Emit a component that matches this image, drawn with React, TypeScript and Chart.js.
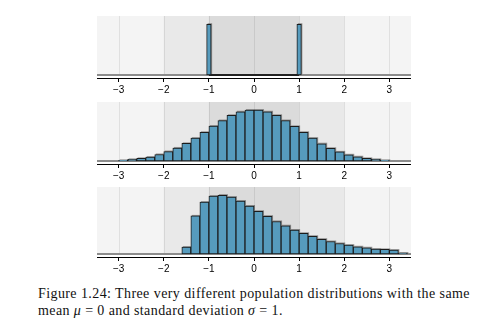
import React, { useEffect, useRef } from "react";
import { Chart, registerables } from "chart.js";

Chart.register(...registerables);

// ---- data ----
const X_MIN = -3.48;
const X_MAX = 3.48;
const TICK_VALUES = [-3, -2, -1, 0, 1, 2, 3];

// Panel 1: two spikes at -1 and +1 (bins of width 0.1)
const UNIFORM_CENTERS = [-1.0, -0.9, -0.8, -0.7, -0.6, -0.5, -0.4, -0.3, -0.2, -0.1, 0.0, 0.1, 0.2, 0.3, 0.4, 0.5, 0.6, 0.7, 0.8, 0.9, 1.0];
const UNIFORM_VALUES = [154, 0, 0, 0, 0, 0, 0, 0, 0, 0, 0, 0, 0, 0, 0, 0, 0, 0, 0, 0, 154];
const UNIFORM_JOIN = [-1, 1];

// Panel 2: symmetric bell shape (bins of width 0.2)
const NORMAL_CENTERS = [-2.9, -2.7, -2.5, -2.3, -2.1, -1.9, -1.7, -1.5, -1.3, -1.1, -0.9, -0.7, -0.5, -0.3, -0.1, 0.1, 0.3, 0.5, 0.7, 0.9, 1.1, 1.3, 1.5, 1.7, 1.9, 2.1, 2.3, 2.5, 2.7, 2.9];
const NORMAL_VALUES = [2, 5, 8, 12, 20, 29, 40, 54, 70, 88, 107, 124, 140, 151, 156, 156, 151, 140, 124, 106, 88, 70, 53, 39, 28, 19, 13, 8, 5, 2];

// Panel 3: right-skewed (bins of width 0.2)
const SKEW_CENTERS = [-1.5, -1.3, -1.1, -0.9, -0.7, -0.5, -0.3, -0.1, 0.1, 0.3, 0.5, 0.7, 0.9, 1.1, 1.3, 1.5, 1.7, 1.9, 2.1, 2.3, 2.5, 2.7, 2.9, 3.1, 3.3];
const SKEW_VALUES = [21, 116, 158, 176, 179, 173, 161, 146, 130, 115, 99, 86, 73, 63, 54, 45, 38, 32, 27, 22, 19, 15, 14, 12, 3];

// ---- styles ----
const BAR_FILL = "#569BBD";
const BAR_EDGE = "#1c1c1c";
const BAR_SHADOW = "rgba(0,0,0,0.38)";
const BAND_OUTER = "#f4f4f4";
const BAND_MID = "#e9e9e9";
const BAND_INNER = "#dbdbdb";
const GRID_COLOR = "rgba(0,0,0,0.08)";
const BASELINE_COLOR = "#8c8c8c";
const GAP = 3;
const AXIS_H = 20;
const PLOT_LEFT = 97;
const PLOT_W = 314;

const bandsPlugin = {
  id: "bands",
  beforeDatasetsDraw(chart: any) {
    const { ctx, chartArea: a, scales } = chart;
    const x = scales.x;
    const y = scales.y;
    const y0 = y.getPixelForValue(0);
    const h = y0 - a.top;
    ctx.save();
    ctx.fillStyle = BAND_OUTER;
    ctx.fillRect(a.left, a.top, a.width, h);
    ctx.fillStyle = BAND_MID;
    ctx.fillRect(x.getPixelForValue(-2), a.top, x.getPixelForValue(2) - x.getPixelForValue(-2), h);
    ctx.fillStyle = BAND_INNER;
    ctx.fillRect(x.getPixelForValue(-1), a.top, x.getPixelForValue(1) - x.getPixelForValue(-1), h);
    ctx.strokeStyle = GRID_COLOR;
    ctx.lineWidth = 1;
    TICK_VALUES.forEach((v) => {
      const px = Math.round(x.getPixelForValue(v)) + 0.5;
      ctx.beginPath();
      ctx.moveTo(px, a.top);
      ctx.lineTo(px, y0);
      ctx.stroke();
    });
    ctx.strokeStyle = BASELINE_COLOR;
    ctx.lineWidth = 2;
    ctx.beginPath();
    ctx.moveTo(a.left, y0);
    ctx.lineTo(a.right, y0);
    ctx.stroke();
    // soft offset shadow behind the bars (up and to the right)
    chart.data.datasets.forEach((ds: any, i: number) => {
      if (ds.type !== "bar") return;
      const meta = chart.getDatasetMeta(i);
      ctx.fillStyle = BAR_SHADOW;
      meta.data.forEach((el: any) => {
        const hgt = el.base - el.y;
        if (hgt <= 0.5) return;
        ctx.fillRect(el.x - el.width / 2 + 1, el.y - 1, el.width, hgt);
      });
    });
    ctx.restore();
  },
};

type PanelProps = {
  centers: number[];
  values: number[];
  yMax: number;
  top: number;
  plotH: number;
  join?: number[];
};

function Panel({ centers, values, yMax, top, plotH, join }: PanelProps) {
  const ref = useRef<HTMLCanvasElement>(null);
  useEffect(() => {
    if (!ref.current) return;
    const yMin = (-yMax * GAP) / (plotH - GAP);
    const datasets: any[] = [
      {
        type: "bar",
        data: centers.map((c, i) => ({ x: c, y: values[i] })),
        backgroundColor: BAR_FILL,
        borderColor: BAR_EDGE,
        borderWidth: 1,
        borderSkipped: false,
        barPercentage: 1,
        categoryPercentage: 1,
        order: 1,
      },
    ];
    if (join) {
      datasets.push({
        type: "line",
        data: join.map((v) => ({ x: v, y: 0 })),
        borderColor: "#222",
        borderWidth: 2,
        pointRadius: 0,
        order: 2,
      });
    }
    const chart = new Chart(ref.current, {
      type: "bar",
      data: { datasets },
      plugins: [bandsPlugin],
      options: {
        responsive: false,
        animation: false,
        devicePixelRatio: 1,
        layout: { padding: 0 },
        plugins: { legend: { display: false }, tooltip: { enabled: false } },
        scales: {
          x: {
            type: "linear",
            min: X_MIN,
            max: X_MAX,
            offset: false,
            afterBuildTicks: (s: any) => {
              s.ticks = TICK_VALUES.map((v) => ({ value: v }));
            },
            afterFit: (s: any) => {
              s.height = AXIS_H;
            },
            grid: {
              display: true,
              drawOnChartArea: false,
              drawTicks: true,
              tickLength: 4,
              tickColor: "#000",
              offset: false,
            },
            border: { display: true, color: "#000", width: 1 },
            ticks: {
              padding: 2,
              color: "#000",
              autoSkip: false,
              maxRotation: 0,
              font: { family: "'Liberation Sans', Arial, sans-serif", size: 10 },
              callback: (v: any) => (Number(v) < 0 ? "\u2212" + Math.abs(Number(v)) : String(v)),
            },
          },
          y: { display: false, min: yMin, max: yMax },
        },
      } as any,
    });
    return () => chart.destroy();
  }, []);
  return (
    <canvas
      ref={ref}
      width={PLOT_W}
      height={plotH + AXIS_H}
      style={{ position: "absolute", left: PLOT_LEFT, top, width: PLOT_W, height: plotH + AXIS_H, display: "block" }}
    />
  );
}

export default function App() {
  return (
    <div style={{ position: "absolute", left: 0, top: 0, width: 496, height: 335, background: "#fff" }}>
      <Panel centers={UNIFORM_CENTERS} values={UNIFORM_VALUES} yMax={179} top={16} plotH={62} join={UNIFORM_JOIN} />
      <Panel centers={NORMAL_CENTERS} values={NORMAL_VALUES} yMax={181} top={102} plotH={62} />
      <Panel centers={SKEW_CENTERS} values={SKEW_VALUES} yMax={204} top={187} plotH={70} />
      <div
        style={{
          position: "absolute",
          left: 38,
          top: 286,
          width: 432,
          fontFamily: "'Liberation Serif', 'Times New Roman', serif",
          fontSize: 14,
          letterSpacing: "0.4px",
          lineHeight: "16.5px",
          color: "#111",
        }}
      >
        <div style={{ textAlign: "justify", textAlignLast: "justify" as any, whiteSpace: "nowrap" }}>
          Figure 1.24: Three very different population distributions with the same
        </div>
        <div>
          mean <i>μ</i> = 0 and standard deviation <i>σ</i> = 1.
        </div>
      </div>
    </div>
  );
}
